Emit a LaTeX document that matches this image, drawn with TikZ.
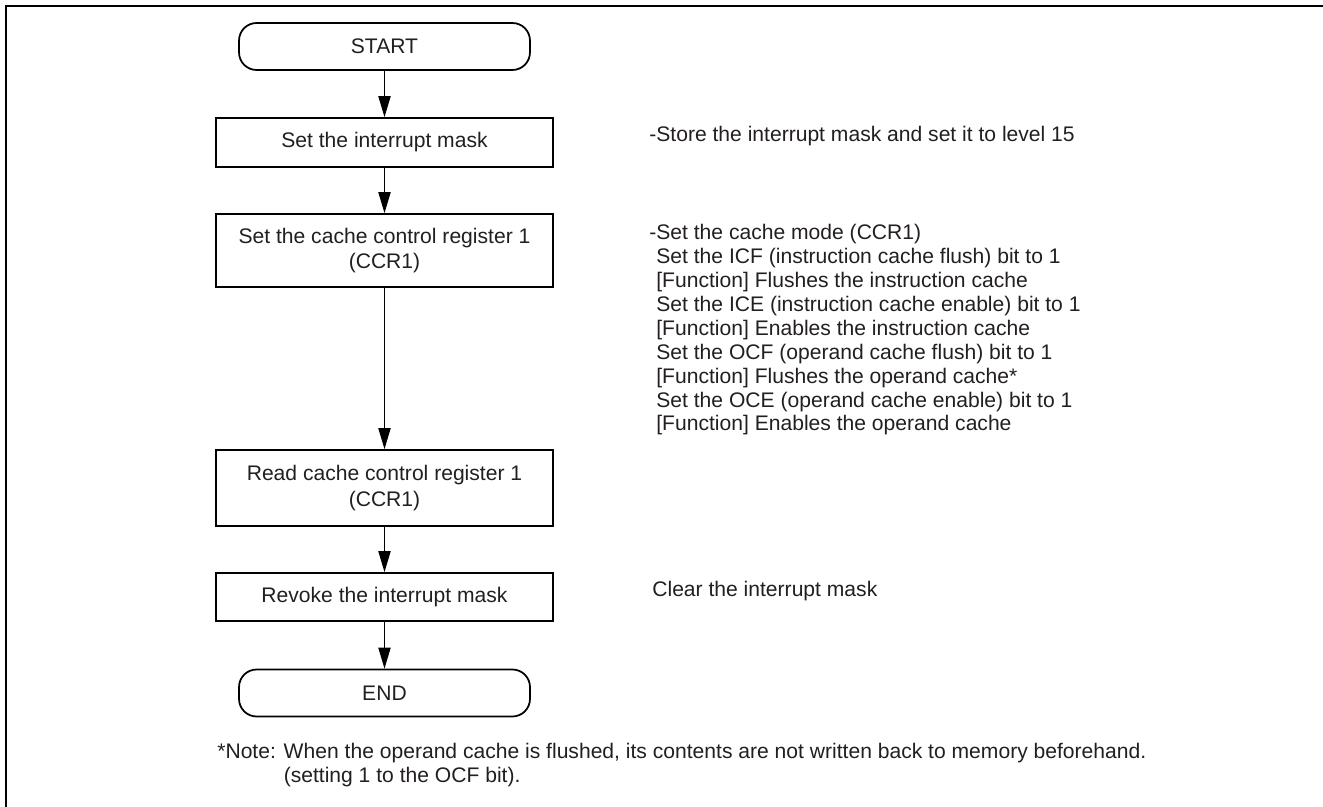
\documentclass[tikz,border=0pt]{standalone}
\usepackage{fontspec}
\setmainfont{Liberation Sans}
\usetikzlibrary{arrows.meta,positioning}
\definecolor{inkgray}{RGB}{35,31,32}

\begin{document}
\begin{tikzpicture}[x=0.02cm, y=-0.02cm,
    font=\fontsize{12}{13.6}\selectfont,
    terminal/.style={rectangle, rounded corners=10pt, draw=black, line width=1pt, minimum width=5.82cm, minimum height=0.94cm, inner sep=0pt, text=inkgray},
    process/.style={rectangle, draw=black, line width=1pt, minimum width=6.74cm, inner sep=0pt, align=center, text=inkgray},
    flow/.style={draw=black, line width=0.6pt, -{Triangle[length=12pt,width=7pt]}},
    remark/.style={inner sep=0pt, align=left, text=inkgray}
]
\useasboundingbox (0,0) rectangle (1323,807);

% Rahmen
\draw[line width=1.2pt] (6,807) -- (6,6) -- (1323,6);

% Ablauf
\node[terminal] (start) at (384.5,46.5) {START};
\node[process, minimum height=0.98cm] (mask) at (384.5,142.5) {Set the interrupt mask};
\node[process, minimum height=1.46cm] (ccr) at (384.5,250.5) {Set the cache control register 1\\[1pt](CCR1)};
\node[process, minimum height=1.52cm] (readccr) at (384.5,488) {Read cache control register 1\\[1pt](CCR1)};
\node[process, minimum height=0.96cm] (revoke) at (384.5,597) {Revoke the interrupt mask};
\node[terminal] (end) at (384.5,693) {END};

\draw[flow] (start) -- (mask);
\draw[flow] (mask) -- (ccr);
\draw[flow] (ccr) -- (readccr);
\draw[flow] (readccr) -- (revoke);
\draw[flow] (revoke) -- (end);

% Erlaeuterungen (base = letzte Zeile)
\node[remark, anchor=base west] (masknote) at (649,142) {-Store the interrupt mask and set it to level 15};
\node[remark, anchor=base west] (ccrnote) at (649,431) {-Set the cache mode (CCR1)\\
    \phantom{-}Set the ICF (instruction cache flush) bit to 1\\
    \phantom{-}[Function] Flushes the instruction cache\\
    \phantom{-}Set the ICE (instruction cache enable) bit to 1\\
    \phantom{-}[Function] Enables the instruction cache\\
    \phantom{-}Set the OCF (operand cache flush) bit to 1\\
    \phantom{-}[Function] Flushes the operand cache*\\
    \phantom{-}Set the OCE (operand cache enable) bit to 1\\
    \phantom{-}[Function] Enables the operand cache};
\node[remark, anchor=base west] (revokenote) at (652,597) {Clear the interrupt mask};

% Fussnote
\node[remark, anchor=base west] (footnote) at (217,782) {*Note: When the operand cache is flushed, its contents are not written back to memory beforehand.\\
    \phantom{*Note: }(setting 1 to the OCF bit).};

\end{tikzpicture}
\end{document}
